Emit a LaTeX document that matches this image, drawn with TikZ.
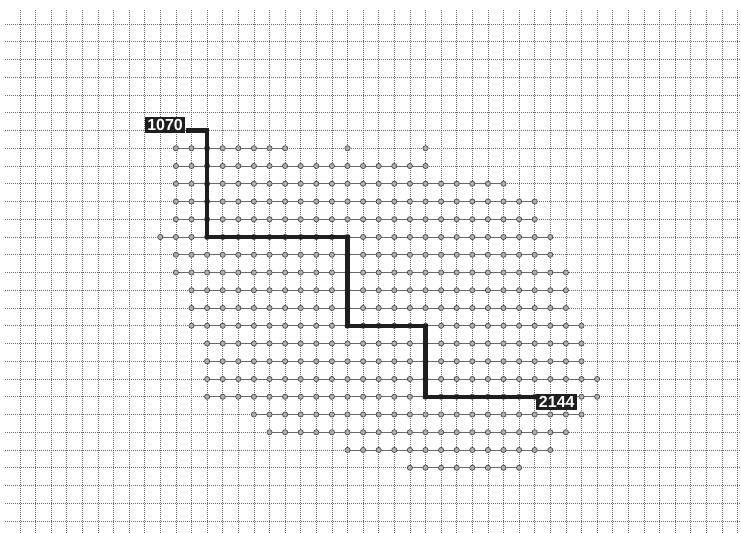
\documentclass[tikz,border=0pt]{standalone}
\usepackage{fontspec}
\setsansfont{Liberation Sans}
\usetikzlibrary{calc}
\definecolor{gridgrey}{RGB}{105,105,105}
\definecolor{dotgrey}{RGB}{75,75,75}
\definecolor{dotfill}{RGB}{175,175,175}
\definecolor{pathblack}{RGB}{30,30,30}
\tikzset{
  gridline/.style={line width=0.55pt, draw=gridgrey, dash pattern=on 1pt off 1pt},
  rowline/.style={line width=0.7pt, draw=gridgrey},
  gridpoint/.style={draw=dotgrey, fill=dotfill, line width=0.7pt},
  route/.style={line width=4.2pt, draw=pathblack},
  tag/.style={
    fill=pathblack,
    text=white,
    inner xsep=2.5pt,
    inner ysep=2.2pt,
    font=\sffamily\bfseries\fontsize{16}{16}\selectfont
  }
}

\begin{document}
\begin{tikzpicture}[x=15.6pt, y=-17.75pt]
  \useasboundingbox (-1.2756,-1.3521) rectangle (46.224,28.620);

  % squared paper
  \foreach \k in {0,...,46}
    \draw[gridline] (\k,-0.8) -- (\k,28.62);
  \foreach \j in {0,...,28}
    \draw[gridline] (-0.95,\j) -- (46.22,\j);

  % field of points, row by row: row/first/last
  \draw[rowline] (10,7) -- (17,7);
  \foreach \k in {10,11,12,13,14,15,16,17,21,26}
    \filldraw[gridpoint] (\k,7) circle[radius=2.6pt];
  \foreach \j/\a/\b in {8/10/26, 9/10/31, 10/10/33, 11/10/33, 12/9/34,
                        13/10/34, 14/10/35, 15/11/35, 16/11/35, 17/11/36,
                        18/12/36, 19/12/36, 20/12/37, 21/12/37, 22/15/36,
                        23/16/35, 24/21/34, 25/25/32} {
    \draw[rowline] (\a,\j) -- (\b,\j);
    \foreach \k in {\a,...,\b}
      \filldraw[gridpoint] (\k,\j) circle[radius=2.6pt];
  }

  % corners of the route
  \coordinate (s1) at (12,6);
  \coordinate (s2) at (12,12);
  \coordinate (s3) at (21,12);
  \coordinate (s4) at (21,17);
  \coordinate (s5) at (26,17);
  \coordinate (s6) at (26,21);

  \node[tag, anchor=south east] (start) at (10.62,6.14) {1070};
  \node[tag, anchor=north west] (finish) at (33.1,20.86) {2144};

  \draw[route] (start.east |- s1) -- (s1) -- (s2) -- (s3) -- (s4) -- (s5) -- (s6) -- (finish.west |- s6);
\end{tikzpicture}
\end{document}
